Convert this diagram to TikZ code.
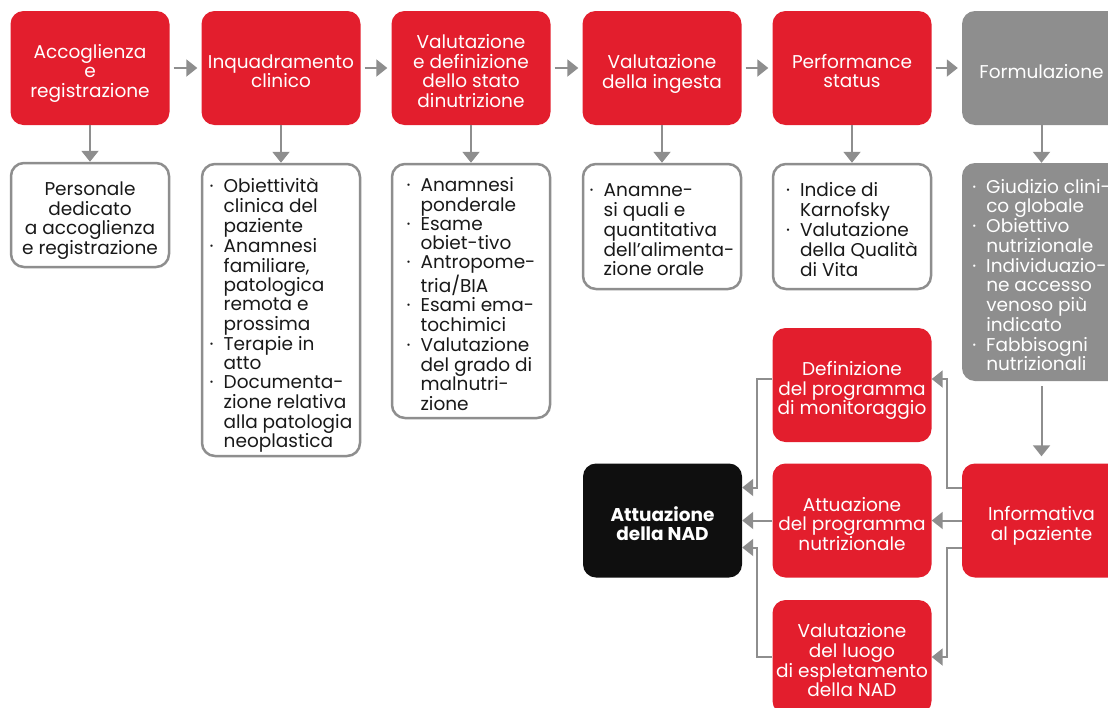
\documentclass[tikz,border=0pt]{standalone}
\usepackage{fontspec}
\setmainfont{Poppins}
\usetikzlibrary{arrows.meta}
\definecolor{nadred}{HTML}{E31E2D}
\definecolor{nadgray}{HTML}{8E8E8E}
\definecolor{nadblack}{HTML}{0F0F0F}
\newcommand{\blt}{\makebox[14pt][l]{·}}
\newcommand{\hng}{\hspace*{14pt}}
% testo centrato / a sinistra, un po' abbassato
\newcommand{\ctext}[1]{\raisebox{0pt}[\dimexpr\height+12pt\relax][\depth]{\begin{tabular}{@{}c@{}}#1\end{tabular}}}
\newcommand{\ltext}[1]{\raisebox{0pt}[\dimexpr\height+12pt\relax][\depth]{\begin{tabular}{@{}l@{}}#1\end{tabular}}}

\begin{document}
\begin{tikzpicture}[x=1pt,y=-1pt,
	fase/.style={fill=nadred, text=white, rounded corners=13pt, inner sep=0pt,
	minimum width=159pt, minimum height=114pt,
	font=\fontsize{18.5}{19}\selectfont},
	dett/.style={draw=nadgray, line width=2.5pt, fill=white, text=black!90,
	rounded corners=13pt, inner sep=0pt, minimum width=158pt, minimum height=#1,
	font=\fontsize{18.5}{19}\selectfont},
	freccia/.style={draw=nadgray, line width=2pt, -{Triangle[length=11pt,width=17pt]}}]
\useasboundingbox (0,0) rectangle (1108,707);
% Fasi in alto
\node [fase,name=acc] at (90,68) {\ctext{Accoglienza\\e\\registrazione}};
\node [fase,name=inq] at (281,68) {\ctext{Inquadramento\\clinico}};
\node [fase,name=val] at (471,68) {\ctext{Valutazione\\e definizione\\dello stato\\dinutrizione}};
\node [fase,name=ing] at (662,68) {\ctext{Valutazione\\della ingesta}};
\node [fase,name=perf] at (852,68) {\ctext{Performance\\status}};
\node [fase,fill=nadgray,name=form] at (1041.5,68) {\ctext{Formulazione}};

% Dettagli
\node [dett=104pt,name=pers] at (90,215) {\ctext{Personale\\dedicato\\a accoglienza\\e registrazione}};
\node [dett=292pt,name=obi] at (281,310) {\ltext{\blt Obiettività\\\hng clinica del\\\hng paziente\\\blt Anamnesi\\\hng familiare,\\\hng patologica\\\hng remota e\\\hng prossima\\\blt Terapie in\\\hng atto\\\blt Documenta-\\\hng zione relativa\\\hng alla patologia\\\hng neoplastica}};
\node [dett=254pt,name=pond] at (471,291) {\ltext{\blt Anamnesi\\\hng ponderale\\\blt Esame\\\hng obiet-tivo\\\blt Antropome-\\\hng tria/BIA\\\blt Esami ema-\\\hng tochimici\\\blt Valutazione\\\hng del grado di\\\hng malnutri-\\\hng zione}};
\node [dett=125pt,name=alim] at (662,226.5) {\ltext{\blt Anamne-\\\hng si quali e\\\hng quantitativa\\\hng dell’alimenta-\\\hng zione orale}};
\node [dett=125pt,name=karn] at (852,226.5) {\ltext{\blt Indice di\\\hng Karnofsky\\\blt Valutazione\\\hng della Qualità\\\hng di Vita}};
\node [fase,fill=nadgray,minimum height=218pt,name=giud] at (1041.5,272) {\ltext{\blt Giudizio clini-\\\hng co globale\\\blt Obiettivo\\\hng nutrizionale\\\blt Individuazio-\\\hng ne accesso\\\hng venoso più\\\hng indicato\\\blt Fabbisogni\\\hng nutrizionali}};

% Programma
\node [fase,name=info] at (1041.5,520.5) {\ctext{Informativa\\al paziente}};
\node [fase,name=mon] at (852,385) {\ctext{Definizione\\del programma\\di monitoraggio}};
\node [fase,name=prog] at (852,520.5) {\ctext{Attuazione\\del programma\\nutrizionale}};
\node [fase,name=luogo] at (852,657) {\ctext{Valutazione\\del luogo\\di espletamento\\della NAD}};
\node [fase,fill=nadblack,font=\fontsize{18.5}{19}\selectfont\bfseries,name=nad] at (662.5,520.5) {\ctext{Attuazione\\della NAD}};

% Frecce orizzontali
\foreach \a/\b in {acc/inq,inq/val,val/ing,ing/perf,perf/form}
\draw [freccia,shorten <=4pt,shorten >=4pt] (\a.east) -- (\b.west);
% Frecce verticali
\foreach \a/\b in {acc/pers,inq/obi,val/pond,ing/alim,perf/karn,form/giud}
\draw [freccia] (\a.south) -- (\b.north);
\draw [freccia,shorten <=5pt,shorten >=7pt] (giud.south) -- (info.north);

% Collegamenti in basso
\draw [freccia] (info.west) -- (prog.east);
\draw [freccia] ([yshift=33pt]info.west) -- ++(-15,0) |- ([yshift=6pt]mon.east);
\draw [freccia] ([yshift=-27pt]info.west) -- ++(-15,0) |- (luogo.east);
\draw [freccia] (prog.west) -- (nad.east);
\draw [freccia] ([yshift=6pt]mon.west) -- ++(-15,0) |- ([yshift=33pt]nad.east);
\draw [freccia] (luogo.west) -- ++(-15,0) |- ([yshift=-27pt]nad.east);

\end{tikzpicture}
\end{document}
